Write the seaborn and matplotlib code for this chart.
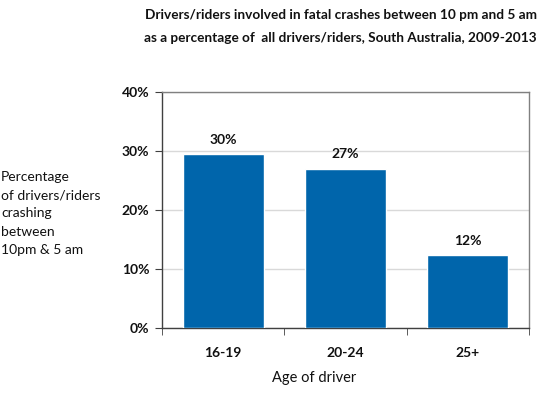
import matplotlib
matplotlib.use("Agg")
import matplotlib.pyplot as plt
import seaborn as sns
import pandas as pd
from matplotlib.ticker import PercentFormatter

categories = ["16-19", "20-24", "25+"]
values = [29.5, 27.0, 12.3]
labels = ["30%", "27%", "12%"]
title_lines = ["Drivers/riders involved in fatal crashes between 10 pm and 5 am",
               "as a percentage of  all drivers/riders, South Australia, 2009-2013"]

sns.set_style("white")
plt.rcParams["font.family"] = ["Lato", "DejaVu Sans"]

df = pd.DataFrame({"age": categories, "pct": values})

fig = plt.figure(figsize=(5.5, 3.95), dpi=100)
ax = fig.add_axes([162/550, 1-328/395, (529-162)/550, (328-92)/395])

sns.barplot(data=df, x="age", y="pct", color="#0065AB", saturation=1,
            width=0.66, ax=ax, zorder=3)

ax.set_ylim(0, 40)
ax.set_yticks([0, 10, 20, 30, 40])
ax.yaxis.set_major_formatter(PercentFormatter(decimals=0))
ax.set_xlim(-0.5, 2.5)
ax.grid(axis="y", color="#D9D9D9", linewidth=1, zorder=0)
ax.set_axisbelow(True)

for s in ["left", "bottom"]:
    ax.spines[s].set_color("#404040")
    ax.spines[s].set_linewidth(1)
for s in ["top", "right"]:
    ax.spines[s].set_color("#808080")
    ax.spines[s].set_linewidth(1)

ax.tick_params(axis="y", which="both", left=True, length=5, color="#404040",
               labelsize=10, pad=4)
ax.tick_params(axis="x", bottom=False, labelsize=10, pad=10)
for t in ax.get_yticklabels() + ax.get_xticklabels():
    t.set_fontweight("bold")
    t.set_color("#111111")

ax.set_xticks([-0.5, 0.5, 1.5, 2.5], minor=True)
ax.tick_params(axis="x", which="minor", bottom=True, length=5, color="#404040")

ax.bar_label(ax.containers[0], labels=labels, padding=6, fontsize=10,
             fontweight="bold", color="#111111")

ax.set_xlabel("Age of driver", fontsize=10.5, color="#111111")
ax.xaxis.set_label_coords((314-162)/367, -(378-328)/236, transform=ax.transAxes)
ax.xaxis.label.set_va("center")
ax.set_ylabel("")

fig.text(1/550, 1-171/395,
         "Percentage\nof drivers/riders\ncrashing\nbetween\n10pm & 5 am",
         ha="left", va="top", fontsize=10, linespacing=1.62, color="#111111")

for line, yc in zip(title_lines, [15, 38]):
    fig.text(537/550, 1-yc/395, line, ha="right", va="center",
             fontsize=9.8, fontweight="bold", color="#111111")

fig.savefig("out.png", dpi=100)
